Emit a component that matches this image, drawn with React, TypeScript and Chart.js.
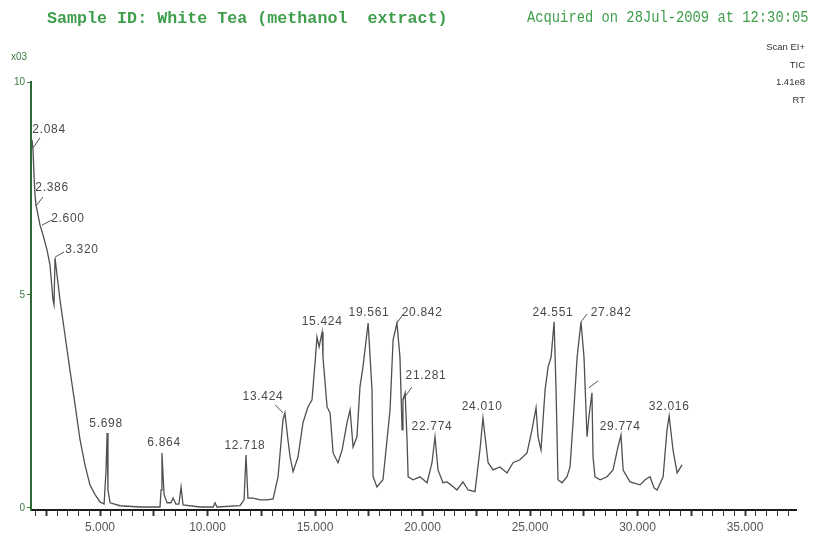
import React, { useEffect, useRef } from "react";
import { Chart, registerables } from "chart.js";

Chart.register(...registerables);

// Retention time (min) of each traced point
const retentionTimes = [
  1.837, 1.884, 1.93, 1.977, 2.023, 2.116, 2.209, 2.349, 2.535, 2.674, 2.814, 2.86, 2.907, 3.0, 3.14,
  3.37, 3.6, 3.84, 4.07, 4.3, 4.53, 4.77, 5.0, 5.19, 5.28, 5.33, 5.37, 5.47, 5.93, 6.86,
  7.79, 7.84, 7.88, 7.98, 8.12, 8.3, 8.4, 8.53, 8.67, 8.77, 8.86, 9.65, 10.26, 10.35, 10.44,
  11.51, 11.7, 11.79, 11.88, 12.12, 12.44, 12.77, 13.05, 13.28, 13.51, 13.6, 13.74, 13.84, 13.98, 14.21,
  14.44, 14.67, 14.86, 15.0, 15.09, 15.19, 15.33, 15.37, 15.56, 15.7, 15.84, 16.07, 16.26, 16.49, 16.63,
  16.77, 16.95, 17.09, 17.23, 17.47, 17.65, 17.7, 17.88, 18.16, 18.49, 18.63, 18.81, 18.95, 19.05, 19.09,
  19.19, 19.28, 19.33, 19.56, 19.88, 20.21, 20.44, 20.58, 20.72, 20.95, 21.14, 21.37, 21.6, 21.88, 22.12,
  22.44, 22.67, 22.81, 23.05, 23.28, 23.6, 23.93, 24.21, 24.53, 24.86, 25.09, 25.28, 25.37, 25.51, 25.7,
  25.84, 25.98, 26.12, 26.21, 26.3, 26.49, 26.72, 26.86, 27.0, 27.19, 27.37, 27.51, 27.65, 27.74, 27.88,
  27.93, 28.02, 28.26, 28.58, 28.86, 29.09, 29.23, 29.33, 29.65, 30.12, 30.35, 30.58, 30.77, 30.91, 31.19,
  31.37, 31.47, 31.65, 31.84, 32.07,
];

// Total ion current (x10^3 scale units) of each traced point
const intensities = [
  8.64, 8.4, 7.82, 7.35, 7.11, 6.88, 6.64, 6.41, 6.06, 5.7, 4.88, 4.77, 5.87, 5.47, 4.88,
  4.06, 3.24, 2.42, 1.6, 1.01, 0.54, 0.31, 0.14, 0.09, 0.89, 1.76, 0.42, 0.12, 0.05, 0.02,
  0.02, 0.42, 1.29, 0.31, 0.12, 0.12, 0.23, 0.09, 0.09, 0.49, 0.07, 0.02, 0.02, 0.12, 0.02,
  0.05, 0.19, 1.24, 0.23, 0.23, 0.19, 0.19, 0.21, 0.73, 2.07, 2.23, 1.6, 1.2, 0.85, 1.2,
  2.0, 2.37, 2.54, 3.4, 4.01, 3.78, 4.13, 3.54, 2.37, 2.23, 1.29, 1.06, 1.36, 2.0, 2.3,
  1.43, 1.67, 2.84, 3.31, 4.34, 2.77, 0.73, 0.49, 0.66, 2.3, 3.94, 4.34, 3.54, 1.83, 2.54,
  2.7, 1.6, 0.73, 0.66, 0.73, 0.59, 1.06, 1.67, 0.89, 0.59, 0.61, 0.52, 0.42, 0.61, 0.42,
  0.38, 1.36, 2.11, 1.06, 0.89, 0.96, 0.82, 1.06, 1.13, 1.29, 1.83, 2.35, 1.67, 1.36, 2.77,
  3.31, 3.54, 4.37, 2.77, 0.66, 0.59, 0.73, 0.96, 2.0, 3.54, 4.37, 3.54, 1.67, 2.14, 2.7,
  1.2, 0.73, 0.66, 0.73, 0.89, 1.43, 1.71, 0.89, 0.61, 0.54, 0.66, 0.73, 0.47, 0.42, 0.73,
  1.83, 2.16, 1.36, 0.82, 1.01,
];

// Peak annotations: text and anchor (retention time, intensity)
const peakLabelTexts = [
  "2.084", "2.386", "2.600", "3.320", "5.698", "6.864", "12.718", "13.424", "15.424",
  "19.561", "20.842", "21.281", "22.774", "24.010", "24.551", "27.842", "29.774", "32.016",
];
const peakLabelX = [
  2.63, 2.77, 3.51, 4.16, 5.28, 7.98, 11.74, 12.58, 15.33,
  17.51, 19.98, 20.16, 20.44, 22.77, 26.07, 28.77, 29.19, 31.47,
];
const peakLabelY = [
  8.87, 7.51, 6.78, 6.06, 1.97, 1.53, 1.46, 2.61, 4.37,
  4.58, 4.58, 3.1, 1.9, 2.37, 4.58, 4.58, 1.9, 2.37,
];

// Leader lines from peaks to labels: [x1, y1, x2, y2]
const leaderLines = [
  [1.884, 8.45, 2.209, 8.69],
  [2.023, 7.09, 2.35, 7.3],
  [2.3, 6.64, 2.77, 6.76],
  [2.91, 5.89, 3.33, 6.01],
  [13.51, 2.23, 13.14, 2.42],
  [18.81, 4.34, 19.1, 4.55],
  [19.09, 2.54, 19.51, 2.84],
  [27.37, 4.37, 27.65, 4.55],
  [27.74, 2.82, 28.16, 2.98],
];

const xTickLabels = [5, 10, 15, 20, 25, 30, 35];
const yTickValues = [0, 5, 10];

const X_MIN = 1.79;
const X_MAX = 37.37;

const peakLabelPlugin = {
  id: "peakLabels",
  afterDatasetsDraw(chart: any) {
    const { ctx, scales } = chart;
    const xs = scales.x;
    const ys = scales.y;
    ctx.save();
    ctx.strokeStyle = "#555";
    ctx.lineWidth = 1;
    leaderLines.forEach((l) => {
      ctx.beginPath();
      ctx.moveTo(xs.getPixelForValue(l[0]), ys.getPixelForValue(l[1]));
      ctx.lineTo(xs.getPixelForValue(l[2]), ys.getPixelForValue(l[3]));
      ctx.stroke();
    });
    ctx.fillStyle = "#4a4a4a";
    ctx.font = "12px 'Liberation Sans', Arial, sans-serif";
    try {
      (ctx as any).letterSpacing = "0.7px";
    } catch (e) {}
    ctx.textAlign = "center";
    ctx.textBaseline = "middle";
    peakLabelTexts.forEach((t, i) => {
      ctx.fillText(t, xs.getPixelForValue(peakLabelX[i]), ys.getPixelForValue(peakLabelY[i]));
    });
    ctx.restore();
  },
};

export default function App() {
  const canvasRef = useRef<HTMLCanvasElement | null>(null);

  useEffect(() => {
    if (!canvasRef.current) return;
    const points = retentionTimes.map((x, i) => ({ x, y: intensities[i] }));
    const chart = new Chart(canvasRef.current, {
      type: "line",
      data: {
        datasets: [
          {
            data: points,
            borderColor: "#505050",
            borderWidth: 1.3,
            pointRadius: 0,
            tension: 0,
            fill: false,
          },
        ],
      },
      options: {
        animation: false,
        responsive: false,
        parsing: false as any,
        layout: { padding: { top: 82, right: 35, bottom: 0, left: 0 } },
        plugins: {
          legend: { display: false },
          tooltip: { enabled: false },
        },
        scales: {
          x: {
            type: "linear",
            min: X_MIN,
            max: X_MAX,
            afterBuildTicks: (scale: any) => {
              const ticks: any[] = [];
              for (let v = 2; v <= 37.001; v += 0.5) ticks.push({ value: Math.round(v * 10) / 10 });
              scale.ticks = ticks;
            },
            afterFit: (scale: any) => {
              scale.height = 25;
            },
            ticks: {
              autoSkip: false,
              maxRotation: 0,
              padding: 4,
              color: "#555",
              font: { family: "'Liberation Sans', Arial, sans-serif", size: 12 },
              callback: (v: any) => (xTickLabels.includes(Number(v)) ? Number(v).toFixed(3) : ""),
            },
            grid: {
              drawOnChartArea: false,
              drawTicks: true,
              tickLength: 6,
              color: "#333",
              tickWidth: (c: any) => (c.tick && c.tick.value % 2.5 === 0 ? 2 : 1),
            },
            border: { display: true, color: "#1a1a1a", width: 2 },
          },
          y: {
            type: "linear",
            min: -0.05,
            max: 10,
            afterBuildTicks: (scale: any) => {
              scale.ticks = yTickValues.map((v) => ({ value: v }));
            },
            afterFit: (scale: any) => {
              scale.width = 31;
            },
            ticks: {
              padding: 2,
              color: "#3c7a40",
              font: { family: "'Liberation Sans', Arial, sans-serif", size: 10 },
            },
            grid: {
              drawOnChartArea: false,
              drawTicks: true,
              tickLength: 4,
              color: "#3c7a40",
            },
            border: { display: true, color: "#2f6a34", width: 2 },
          },
        },
      },
      plugins: [peakLabelPlugin],
    } as any);
    return () => chart.destroy();
  }, []);

  const green = "#3f9e4c";
  return (
    <div style={{ position: "absolute", left: 0, top: 0, width: 831, height: 535, background: "#fff" }}>
      <canvas ref={canvasRef} width={831} height={535} style={{ position: "absolute", left: 0, top: 0 }} />
      <div
        style={{
          position: "absolute",
          left: 47,
          top: 9,
          fontFamily: "'Liberation Mono', 'Courier New', monospace",
          fontWeight: "bold",
          fontSize: 16.7,
          color: green,
          whiteSpace: "pre",
          lineHeight: "20px",
        }}
      >
        {"Sample ID: White Tea (methanol  extract)"}
      </div>
      <div
        style={{
          position: "absolute",
          left: 527,
          top: 8,
          fontFamily: "'Liberation Mono', 'Courier New', monospace",
          fontSize: 13.8,
          color: green,
          whiteSpace: "pre",
          lineHeight: "20px",
          transform: "scaleY(1.25)",
          transformOrigin: "left center",
        }}
      >
        {"Acquired on 28Jul-2009 at 12:30:05"}
      </div>
      <div
        style={{
          position: "absolute",
          left: 11,
          top: 51,
          fontFamily: "'Liberation Sans', Arial, sans-serif",
          fontSize: 10,
          color: "#3c7a40",
          lineHeight: "12px",
        }}
      >
        x03
      </div>
      <div
        style={{
          position: "absolute",
          right: 26,
          top: 38,
          textAlign: "right",
          fontFamily: "'Liberation Sans', Arial, sans-serif",
          fontSize: 9.5,
          color: "#333",
          lineHeight: "17.5px",
        }}
      >
        <div>Scan EI+</div>
        <div>TIC</div>
        <div>1.41e8</div>
        <div>RT</div>
      </div>
    </div>
  );
}
